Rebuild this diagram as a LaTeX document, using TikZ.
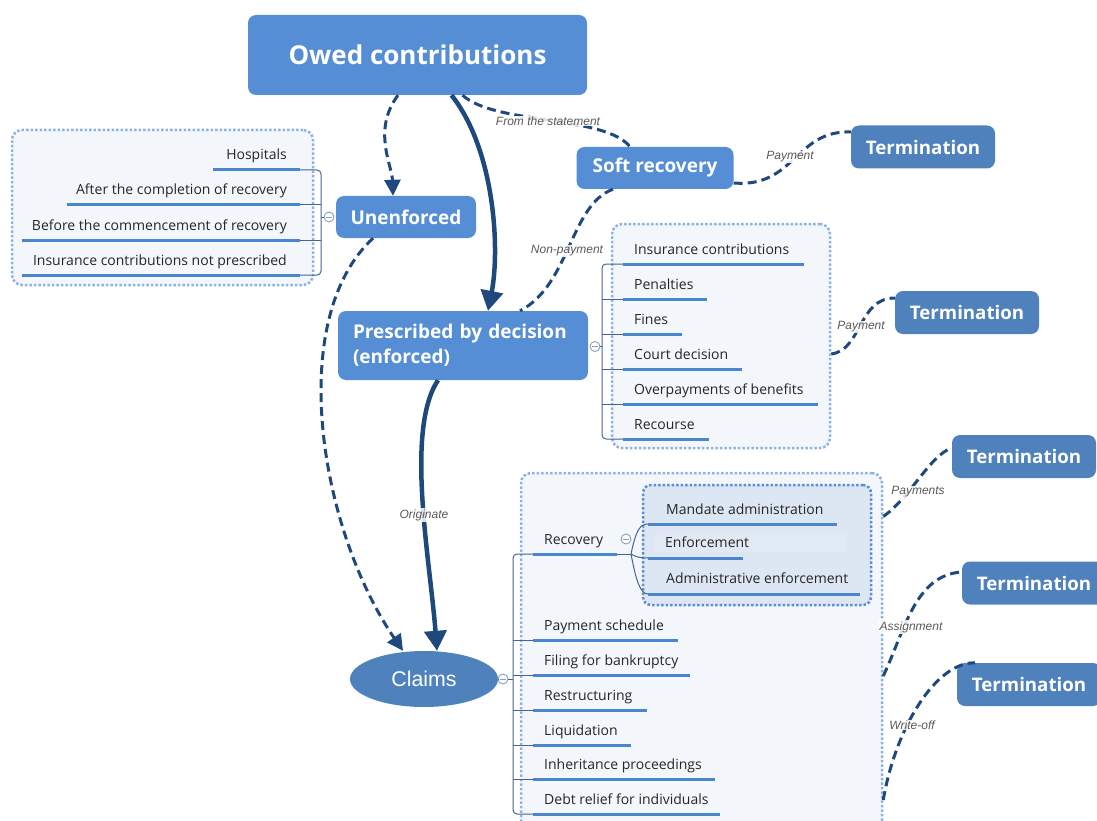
\documentclass[tikz,border=0pt]{standalone}
\usepackage{fontspec}
\setmainfont{Open Sans}
\newfontfamily\arialf{Liberation Sans}
\usetikzlibrary{arrows.meta,shapes.geometric,calc}
\definecolor{boxblue}{RGB}{85,142,213}
\definecolor{termblue}{RGB}{79,129,189}
\definecolor{conn}{RGB}{31,73,125}
\definecolor{uline}{RGB}{74,134,208}
\definecolor{brk}{RGB}{70,100,145}
\definecolor{collc}{RGB}{140,160,190}
\definecolor{dotb}{RGB}{141,179,226}
\definecolor{gfill}{RGB}{243,246,251}
\definecolor{ifill}{RGB}{221,231,244}
\definecolor{idot}{RGB}{91,143,214}
\definecolor{lbl}{RGB}{89,89,89}
\definecolor{itxt}{RGB}{38,38,38}
\tikzset{
  mainbox/.style={fill=boxblue, rounded corners=8pt, text=white, font=\bfseries\fontsize{19}{25}\selectfont, inner sep=0pt},
  termbox/.style={fill=termblue, rounded corners=8pt, text=white, font=\bfseries\fontsize{18.7}{20}\selectfont, minimum width=144pt, minimum height=43pt, inner sep=0pt},
  grp/.style={draw=dotb, fill=gfill, line width=2.5pt, dash pattern=on 2.5pt off 2pt, rounded corners=10pt, inner sep=0pt},
  igrp/.style={draw=idot, fill=ifill, line width=2.5pt, dash pattern=on 2.5pt off 2pt, rounded corners=8pt, inner sep=0pt},
  item/.style={text=itxt, font=\fontsize{14}{16}\selectfont, inner sep=0pt},
  ul/.style={draw=uline, line width=3pt},
  brkt/.style={draw=brk, line width=1pt, rounded corners=4pt},
  coll/.style={circle, draw=collc, fill=white, minimum size=10pt, inner sep=0pt, line width=0.9pt},
  dconn/.style={draw=conn, line width=3pt, dash pattern=on 9pt off 5pt},
  sconn/.style={draw=conn, line width=4.5pt},
  darrow/.style={-{Triangle[length=16pt,width=16pt]}},
  sarrow/.style={-{Triangle[length=20pt,width=22pt]}},
  lab/.style={text=lbl, font=\arialf\itshape\fontsize{12}{14}\selectfont, fill=white, fill opacity=0.85, text opacity=1, inner sep=1pt}
}
\begin{document}
\begin{tikzpicture}[x=1pt,y=-1pt]
\useasboundingbox (0,0) rectangle (1097,821);

% group boxes
\node[grp, minimum width=301pt, minimum height=155pt] (gL) at (162.5,207.5) {};
\node[grp, minimum width=218pt, minimum height=224pt] (gM) at (721,336) {};
\node[grp, minimum width=361pt, minimum height=360pt] (gB) at (701.5,653) {};
\node[igrp, minimum width=228pt, minimum height=120pt] (gI) at (757,545) {};
\fill[white, opacity=0.12] (655,533) rectangle (847,552);

% main boxes
\node[mainbox, font=\bfseries\fontsize{26}{30}\selectfont, minimum width=339pt, minimum height=80pt] (owed) at (417.5,55) {Owed contributions};
\node[mainbox, minimum width=140pt, minimum height=42pt] (unenf) at (406,217) {Unenforced};
\node[mainbox, minimum width=157pt, minimum height=42pt] (soft) at (655,168) {Soft recovery};
\node[mainbox, minimum width=250pt, minimum height=69pt, text width=220pt, align=left] (presc) at (463,345.5) {Prescribed by decision\\(enforced)};
\node[ellipse, fill=termblue, minimum width=148pt, minimum height=56pt, inner sep=0pt, text=white, font=\arialf\fontsize{21.3}{24}\selectfont] (claims) at (424,679) {Claims};

\node[termbox] (t1) at (923,147) {Termination};
\node[termbox] (t2) at (967,312.5) {Termination};
\node[termbox] (t3) at (1024,456.5) {Termination};
\node[termbox] (t4) at (1034,583) {Termination};
\node[termbox] (t5) at (1029,684.5) {Termination};

% left group items
\node[item, anchor=base east] (l1) at (287,160) {Hospitals};
\node[item, anchor=base east] (l2) at (287,195) {After the completion of recovery};
\node[item, anchor=base east] (l3) at (287,230) {Before the commencement of recovery};
\node[item, anchor=base east] (l4) at (287,265) {Insurance contributions not prescribed};
\draw[ul] (213,170) -- (300,170);
\draw[ul] (67,205) -- (300,205);
\draw[ul] (22,240) -- (300,240);
\draw[ul] (22,275) -- (300,275);
\draw[brkt] (300,170) -- (321,170) -- (321,275) -- (300,275);
\draw[brkt] (300,205) -- (321,205);
\draw[brkt] (300,240) -- (321,240);
\node[coll] (cL) at (329,217) {};
\draw[collc, line width=0.9pt] ($(cL.center)+(-3,0)$) -- ($(cL.center)+(3,0)$);
\draw[brk, line width=1pt] (321,217) -- (cL.west);

% middle group items
\node[item, anchor=base west] (m1) at (634,254) {Insurance contributions};
\node[item, anchor=base west] (m2) at (634,289) {Penalties};
\node[item, anchor=base west] (m3) at (634,324) {Fines};
\node[item, anchor=base west] (m4) at (634,359) {Court decision};
\node[item, anchor=base west] (m5) at (634,394) {Overpayments of benefits};
\node[item, anchor=base west] (m6) at (634,429) {Recourse};
\draw[ul] (623,264) -- (804,264);
\draw[ul] (623,299) -- (707,299);
\draw[ul] (623,334) -- (682,334);
\draw[ul] (623,369) -- (742,369);
\draw[ul] (623,404) -- (818,404);
\draw[ul] (623,439) -- (709,439);
\draw[brkt] (623,264) -- (602,264) -- (602,439) -- (623,439);
\foreach \yy in {299,334,369,404} \draw[brkt] (602,\yy) -- (623,\yy);
\node[coll] (cM) at (595,346.5) {};
\draw[collc, line width=0.9pt] ($(cM.center)+(-3,0)$) -- ($(cM.center)+(3,0)$);
\draw[brk, line width=1pt] (cM.east) -- (602,346.5);

% bottom group items
\node[item, anchor=base west] (b1) at (544,544) {Recovery};
\node[item, anchor=base west] (b2) at (544,630) {Payment schedule};
\node[item, anchor=base west] (b3) at (544,665) {Filing for bankruptcy};
\node[item, anchor=base west] (b4) at (544,700) {Restructuring};
\node[item, anchor=base west] (b5) at (544,735) {Liquidation};
\node[item, anchor=base west] (b6) at (544,769) {Inheritance proceedings};
\node[item, anchor=base west] (b7) at (544,804) {Debt relief for individuals};
\draw[ul] (533,554) -- (617,554);
\draw[ul] (533,640) -- (678,640);
\draw[ul] (533,675) -- (690,675);
\draw[ul] (533,710) -- (647,710);
\draw[ul] (533,745) -- (631,745);
\draw[ul] (533,779) -- (715,779);
\draw[ul] (533,814) -- (720,814);
\draw[brkt] (533,554) -- (513,554) -- (513,814) -- (533,814);
\foreach \yy in {640,675,710,745,779} \draw[brkt] (513,\yy) -- (533,\yy);
\node[coll] (cB) at (503,679) {};
\draw[collc, line width=0.9pt] ($(cB.center)+(-3,0)$) -- ($(cB.center)+(3,0)$);
\draw[brk, line width=1pt] (claims.east) -- (cB.west);
\draw[brk, line width=1pt] (cB.east) -- (513,679);

% inner group items
\node[item, anchor=base west] (i1) at (666,514) {Mandate administration};
\node[item, anchor=base west] (i2) at (665,547) {Enforcement};
\node[item, anchor=base west] (i3) at (666,583) {Administrative enforcement};
\draw[ul] (648,524) -- (837,524);
\draw[ul] (648,558) -- (743,558);
\draw[ul] (648,594) -- (860,594);
\node[coll] (cR) at (626,539) {};
\draw[collc, line width=0.9pt] ($(cR.center)+(-3,0)$) -- ($(cR.center)+(3,0)$);
\draw[brk, line width=1pt] (617,554) -- (631,554);
\draw[brk, line width=1pt] (631,554) .. controls (636,530) and (640,524) .. (648,524);
\draw[brk, line width=1pt] (631,554) .. controls (636,557) and (640,558) .. (648,558);
\draw[brk, line width=1pt] (631,554) .. controls (636,580) and (640,594) .. (648,594);

% connectors
\draw[dconn, darrow] ([xshift=-19.5pt]owed.south) .. controls (372,130) and (392,165) .. ([xshift=-13pt]unenf.north);
\draw[sconn, sarrow] ([xshift=34pt]owed.south) .. controls (495,150) and (500,250) .. ([xshift=25pt]presc.north);
\draw[dconn] ([xshift=45pt]owed.south) .. controls (495,125) and (605,115) .. ([xshift=-25pt]soft.north);
\node[lab] (lb1) at (548,121) {From the statement};
\draw[dconn] ([yshift=-15pt]soft.east) .. controls (795,188) and (795,130) .. ([yshift=15pt]t1.west);
\node[lab] (lb2) at (790,157) {Payment};
\draw[dconn] ([xshift=-42pt]soft.south) .. controls (570,205) and (570,285) .. ([xshift=57pt]presc.north);
\node[lab] (lb3) at (567,251) {Non-payment};
\draw[dconn, darrow] ([xshift=-33pt]unenf.south) .. controls (285,320) and (320,530) .. ([xshift=-21pt]claims.north);
\draw[sconn, sarrow] ([xshift=-25pt]presc.south) .. controls (405,430) and (430,560) .. ([xshift=13pt]claims.north);
\node[lab] (lb4) at (424,515) {Originate};
\draw[dconn] ([yshift=-18pt]gM.east) .. controls (862,350) and (858,298) .. ([yshift=14.5pt]t2.west);
\node[lab] (lb5) at (861,327) {Payment};
\draw[dconn] ([yshift=136.5pt]gB.east) .. controls (910,498) and (930,455) .. ([yshift=8.5pt]t3.west);
\node[lab] (lb6) at (918,492) {Payments};
\draw[dconn] ([yshift=-23pt]gB.east) .. controls (905,630) and (915,575) .. ([yshift=11pt]t4.west);
\node[lab] (lb7) at (911,627) {Assignment};
\draw[dconn] ([yshift=-147pt]gB.east) .. controls (895,730) and (935,662) .. ([xshift=-54pt]t5.north);
\node[lab] (lb8) at (912,725) {Write-off};
\end{tikzpicture}
\end{document}
